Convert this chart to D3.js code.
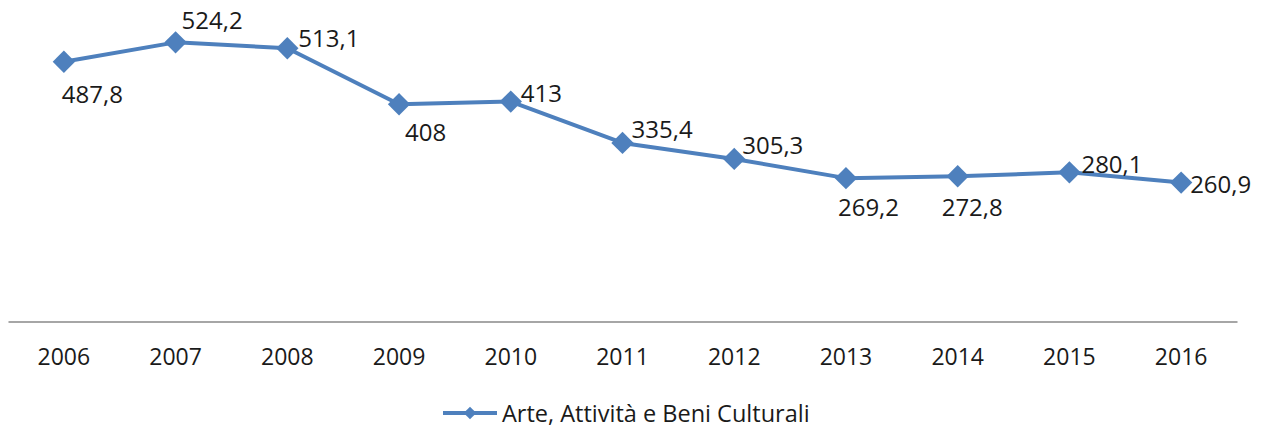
<!DOCTYPE html>
<html>
<head>
<meta charset="utf-8">
<script src="https://cdn.jsdelivr.net/npm/d3@7"></script>
<style>
  body { margin: 0; background: #fff; }
  text { font-family: "Open Sans", sans-serif; fill: #1a1a1a; }
</style>
</head>
<body>
<script>
const years = ['2006', '2007', '2008', '2009', '2010', '2011', '2012', '2013', '2014', '2015', '2016'];
const values = [487.8, 524.2, 513.1, 408, 413, 335.4, 305.3, 269.2, 272.8, 280.1, 260.9];
const seriesName = 'Arte, Attività e Beni Culturali';
// where each data label sits relative to its point (dx, dy of baseline start)
const labelOffsets = [[-2, 41], [6, -13], [11, -1], [6, 37], [10, 0], [9, -5], [8, -5], [-8, 38], [-16, 40], [12, 1], [9, 10]];

const width = 1261;
const height = 428;
const color = '#4e80bd';

const svg = d3.select('body')
              .append('svg')
              .attr('width', width)
              .attr('height', height);

const xScale = d3.scaleBand()
                 .domain(years)
                 .range([8, 1237]);
const cx = (d) => xScale(d) + xScale.bandwidth() / 2;

const yScale = d3.scaleLinear()
                 .domain([0, 600])
                 .range([321.5, 2]);

const xAxis = d3.axisBottom(xScale)
                .tickSize(0)
                .tickPadding(27);
const gx = svg.append('g')
   .attr('transform', `translate(0, ${yScale(0)})`)
   .call(xAxis);
gx.select('.domain').attr('stroke', '#888').attr('stroke-width', 1.3);
gx.selectAll('text')
  .style('font-family', '"Open Sans", sans-serif')
  .attr('font-size', 23)
  .attr('fill', '#1a1a1a');

const data = years.map((y, i) => ({ year: y, value: values[i], off: labelOffsets[i] }));

const line = d3.line()
               .x((d) => cx(d.year))
               .y((d) => yScale(d.value));

svg.append('path')
   .datum(data)
   .attr('d', line)
   .attr('fill', 'none')
   .attr('stroke', color)
   .attr('stroke-width', 4)
   .attr('stroke-linejoin', 'round');

const diamond = d3.symbol().type(d3.symbolSquare).size(250);

svg.selectAll('.marker')
   .data(data)
   .enter()
   .append('path')
   .attr('class', 'marker')
   .attr('d', diamond)
   .attr('fill', color)
   .attr('transform', (d) => `translate(${cx(d.year)}, ${yScale(d.value)}) rotate(45)`);

svg.selectAll('.label')
   .data(data)
   .enter()
   .append('text')
   .attr('class', 'label')
   .attr('x', (d) => cx(d.year) + d.off[0])
   .attr('y', (d) => yScale(d.value) + d.off[1])
   .attr('font-size', 24)
   .text((d) => String(d.value).replace('.', ','));

// legend
const legend = svg.append('g').attr('transform', 'translate(443, 413)');
legend.append('line')
      .attr('x1', 0).attr('x2', 54)
      .attr('stroke', color)
      .attr('stroke-width', 4);
legend.append('path')
      .attr('d', d3.symbol().type(d3.symbolSquare).size(80))
      .attr('fill', color)
      .attr('transform', 'translate(27, 0) rotate(45)');
legend.append('text')
      .attr('x', 59)
      .attr('y', 8.5)
      .attr('font-size', 23.5)
      .text(seriesName);
</script>
</body>
</html>
